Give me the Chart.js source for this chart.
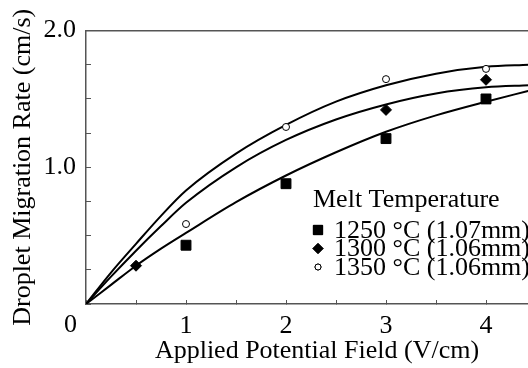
<!DOCTYPE html>
<html>
<head>
<meta charset="utf-8">
<script src="https://cdn.jsdelivr.net/npm/chart.js@4"></script>
<style>
  html, body { margin: 0; padding: 0; background: #fff; overflow: hidden; }
  #wrap { width: 528px; height: 368px; overflow: hidden; }
  #inner { width: 556px; height: 368px; }
</style>
</head>
<body>
<div id="wrap"><div id="inner"><canvas id="rateChart"></canvas></div></div>
<script>
const rate1250X = [1, 2, 3, 4];
const rate1250 = [0.43, 0.88, 1.21, 1.50];
const rate1300X = [0.5, 3, 4];
const rate1300 = [0.28, 1.42, 1.64];
const rate1350X = [1, 2, 3, 4];
const rate1350 = [0.585, 1.295, 1.645, 1.72];

// Curvas de ajuste
const fitX = [0, 0.25, 0.5, 0.75, 1, 1.5, 2, 2.5, 3, 3.5, 4, 4.43];
const fit1250 = [0, 0.14, 0.28, 0.405, 0.52, 0.745, 0.94, 1.11, 1.26, 1.38, 1.48, 1.56];
const fit1300 = [0, 0.2, 0.39, 0.57, 0.74, 1.0, 1.2, 1.35, 1.46, 1.54, 1.585, 1.60];
const fit1350 = [0, 0.23, 0.44, 0.645, 0.83, 1.10, 1.31, 1.48, 1.60, 1.685, 1.735, 1.75];

const seriesLabels = ["1250 °C (1.07mm)", "1300 °C (1.06mm)", "1350 °C (1.06mm)"];
const legendTitle = "Melt Temperature";
const xMajorLabels = [1, 2, 3, 4];
const yMajorLabels = [1, 2];
const originLabel = "0";

const toPoints = (xs, ys) => xs.map((x, i) => ({ x: x, y: ys[i] }));

const serif = "'Liberation Serif', 'Times New Roman', serif";
Chart.defaults.font.family = serif;
Chart.defaults.font.size = 26;
Chart.defaults.color = "#000";

const axisColor = "#555";

const curve = (data) => ({
  data: data,
  showLine: true,
  borderColor: "#000",
  borderWidth: 2,
  pointRadius: 0,
  cubicInterpolationMode: "monotone",
  fill: false,
});

// Leyenda dibujada a mano (las filas se solapan como en el original)
const legendPlugin = {
  id: "meltLegend",
  afterDraw(chart) {
    const ctx = chart.ctx;
    ctx.save();
    ctx.fillStyle = "#000";
    ctx.font = "26px " + serif;
    ctx.textBaseline = "middle";
    ctx.textAlign = "left";
    ctx.fillText(legendTitle, 313, 200);
    [0, 1, 2].forEach(i => {
      const ds = chart.data.datasets[i];
      const y = 230 + i * 18.5;
      Chart.helpers.drawPoint(ctx, {
        pointStyle: ds.pointStyle,
        radius: ds.legendRadius,
        borderWidth: 1,
      }, 318, y);
      ctx.fillStyle = ds.pointBackgroundColor;
      ctx.strokeStyle = "#000";
      ctx.lineWidth = 1;
      ctx.fill();
      ctx.stroke();
      ctx.fillStyle = "#000";
      ctx.fillText(seriesLabels[i], 334, y + 1);
    });
    // "0" en la esquina del origen
    const yScale = chart.scales.y;
    const xScale = chart.scales.x;
    ctx.textAlign = "right";
    ctx.fillText(originLabel, yScale.right - 9, xScale.top + 21);
    ctx.restore();
  },
};

new Chart(document.getElementById("rateChart"), {
  type: "scatter",
  data: {
    datasets: [
      {
        label: seriesLabels[0],
        data: toPoints(rate1250X, rate1250),
        pointStyle: "rect",
        pointRadius: 7,
        legendRadius: 6.5,
        pointBackgroundColor: "#000",
        pointBorderColor: "#000",
        pointBorderWidth: 1,
      },
      {
        label: seriesLabels[1],
        data: toPoints(rate1300X, rate1300),
        pointStyle: "rectRot",
        pointRadius: 5.5,
        legendRadius: 5,
        pointBackgroundColor: "#000",
        pointBorderColor: "#000",
        pointBorderWidth: 1,
      },
      {
        label: seriesLabels[2],
        data: toPoints(rate1350X, rate1350),
        pointStyle: "circle",
        pointRadius: 3.5,
        legendRadius: 3,
        pointBackgroundColor: "#fff",
        pointBorderColor: "#000",
        pointBorderWidth: 1,
      },
      curve(toPoints(fitX, fit1250)),
      curve(toPoints(fitX, fit1300)),
      curve(toPoints(fitX, fit1350)),
    ],
  },
  options: {
    responsive: true,
    maintainAspectRatio: false,
    animation: false,
    layout: { padding: 0 },
    plugins: {
      legend: { display: false },
      tooltip: { enabled: false },
    },
    scales: {
      x: {
        type: "linear",
        position: "bottom",
        min: 0,
        max: 4.62,
        afterFit: scale => { scale.height = 64; },
        border: { color: axisColor, width: 1.5 },
        grid: { drawOnChartArea: false, tickLength: -4, tickColor: axisColor, tickWidth: 1 },
        ticks: {
          stepSize: 0.5,
          includeBounds: false,
          padding: 10.5,
          maxRotation: 0,
          autoSkip: false,
          callback: v => (xMajorLabels.includes(v) ? String(v) : ""),
        },
        title: {
          display: true,
          text: "Applied Potential Field (V/cm)",
          padding: { top: 0, bottom: 1 },
        },
      },
      xTop: {
        type: "linear",
        position: "top",
        min: 0,
        max: 4.62,
        afterFit: scale => { scale.height = 26; },
        border: { color: axisColor, width: 1.5 },
        grid: { drawOnChartArea: false, drawTicks: false },
        ticks: { display: false },
      },
      y: {
        type: "linear",
        position: "left",
        min: 0,
        max: 2,
        afterFit: scale => { scale.width = 86; },
        border: { color: axisColor, width: 1.5 },
        grid: { drawOnChartArea: false, tickLength: -5, tickColor: axisColor, tickWidth: 1 },
        ticks: {
          stepSize: 0.25,
          padding: 15,
          autoSkip: false,
          callback: v => (yMajorLabels.includes(v) ? v.toFixed(1) : ""),
        },
        title: {
          display: true,
          text: "Droplet Migration Rate (cm/s)",
          padding: { top: 8, bottom: 0 },
        },
      },
    },
  },
  plugins: [legendPlugin],
});
</script>
</body>
</html>
